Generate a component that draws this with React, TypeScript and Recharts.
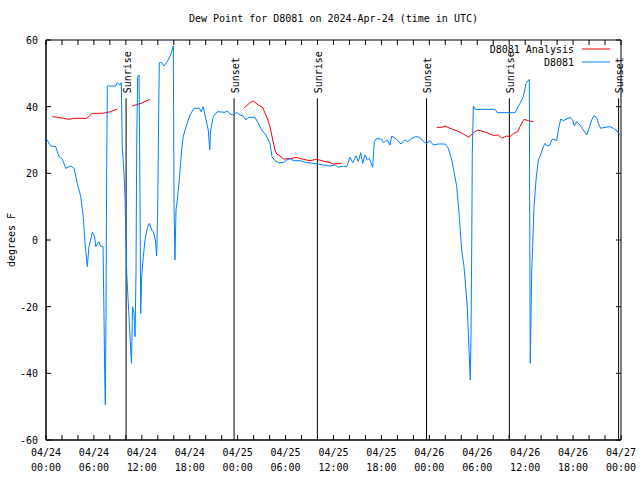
import React from 'react';
import { LineChart, Line, XAxis, YAxis, ReferenceLine, ReferenceArea } from 'recharts';

const FONT = '"DejaVu Sans Mono", "Liberation Mono", monospace';

// time = hours since 2024-04-24 00:00 UTC, value = dew point (deg F)
const stationTimes = [
  0, 0.59, 1.22, 1.63, 2.04, 2.47, 3.09, 3.51, 3.92, 4.35, 4.67, 4.85, 5.05, 5.17, 5.38, 5.8,
  6.1, 6.22, 6.64, 6.85, 7.14, 7.26, 7.35, 7.43, 7.51, 7.6, 7.68, 8.73, 8.93, 9.27, 9.43, 9.55,
  9.77, 9.89, 10.11, 10.39, 10.61, 10.71, 10.83, 11.02, 11.15, 11.27, 11.36, 11.48, 11.65, 11.77,
  11.86, 11.98, 12.18, 12.4, 12.68, 12.94, 13.24, 13.44, 13.69, 13.86, 13.99, 14.11, 14.19, 14.49,
  14.78, 15.11, 15.61, 15.94, 16.03, 16.15, 16.28, 16.44, 16.69, 16.99, 17.19, 17.53, 18.03, 18.53,
  19.2, 19.41, 19.7, 19.95, 20.32, 20.5, 20.62, 20.95, 21.45, 22.41, 22.7, 23.04, 23.45, 23.88,
  24.29, 24.71, 25.01, 25.33, 26.17, 26.58, 27.01, 27.55, 28.05, 28.3, 28.68, 29.09, 29.71, 30.14,
  30.55, 30.97, 31.81, 32.64, 33.47, 34.1, 34.72, 35.56, 36.19, 36.6, 37.23, 37.65, 38.07, 38.41,
  38.82, 39.11, 39.41, 39.66, 39.95, 40.23, 40.48, 40.91, 41.11, 41.41, 42.04, 42.24, 42.74, 43.08,
  43.29, 43.91, 44.11, 44.45, 44.87, 45.29, 45.79, 46.29, 46.83, 47.25, 47.67, 48.08, 48.5, 49.12,
  49.96, 50.38, 50.8, 51.13, 51.43, 51.72, 52.05, 52.34, 52.55, 52.75, 52.97, 53.13, 53.22, 53.31,
  53.38, 53.51, 53.72, 56.22, 56.51, 58.73, 59.35, 59.77, 60.11, 60.52, 60.57, 60.64, 60.73, 60.82,
  60.94, 61.11, 61.36, 61.65, 61.86, 62.27, 62.48, 62.77, 63.11, 63.32, 63.52, 63.95, 64.15, 64.45,
  64.78, 65.11, 65.61, 65.95, 66.15, 66.45, 66.87, 67.28, 67.71, 68.03, 68.33, 68.62, 68.96, 69.16,
  69.46, 70.0, 70.62, 71.04, 71.38, 71.88,
];
const stationValues = [
  30.5, 28.2, 28, 25, 24.3, 21.5, 22.2, 21.5, 17, 13, 7, 0, -5, -8, -2, 2.3,
  1, -2, -0.5, -2, -2, -22, -40, -49.5, -23, 22, 46.2, 46.2, 47.2, 46.5, 47.2, 28,
  20, 13, -10, -23, -33, -37, -20, -22, -29, -10, 29, 49, 49.5, 14,
  -22, -11, -5, 0, 3.5, 5, 3, 2.5, 0, -4.8, 10, 38, 53.2, 53.2,
  52.2, 53.2, 55.5, 58.2, 11, -6, 9, 12, 18, 27, 31, 34, 37.5, 39.5,
  39.5, 38.5, 40, 37, 33, 27, 33, 37, 38.5, 38.3, 38.7, 37.8, 37.5, 38.3,
  37.5, 37.2, 36, 36.8, 36.8, 35, 33, 31.5, 29, 25, 23.8, 23.2, 23.2, 24,
  24.4, 23.8, 23.8, 23.2, 23, 22.8, 22.5, 22.2, 22.5, 21.8, 22.2, 22, 24.8, 23.2,
  25.2, 23.5, 26.2, 23, 25.5, 24, 24.5, 21.8, 29.5, 30.5, 30.2, 29.2, 30, 28.5,
  31.2, 30.2, 29.5, 28.8, 30, 29.5, 30.5, 31, 30.8, 29.5, 29, 29.8, 28.5, 28.8,
  28.8, 27.5, 24, 20, 16, 8, -3, -8, -14, -20, -33, -42, -28, -1,
  26, 40.2, 39.2, 39.2, 38.2, 38.2, 41, 43, 47, 48.2, 6, -37, -24, -9,
  -2, 10, 18, 24, 25, 28, 29, 28.2, 28.5, 30, 30.3, 29.8, 33, 36.3,
  35.8, 36.2, 36.8, 36, 34.2, 35.5, 34.5, 33, 31.5, 33.8, 36, 37.3, 36.8, 35,
  33.5, 33.8, 34, 33.5, 33, 31.5,
];

// null = no analysis value (gap in the line)
const analysisTimes = [
  0.79, 1.41, 2.25, 2.88, 3.51, 5.1, 5.8, 7.05, 8.1, 8.6, 8.93, 9.9,
  10.81, 11.9, 13.02, 18.0,
  24.83, 25.55, 25.96, 26.58, 27.14, 27.71, 28.05, 28.39, 28.68, 28.89, 29.3, 29.72, 30.55, 31.39,
  32.22, 33.06, 33.9, 34.72, 35.56, 35.98, 37.03, 43.0,
  48.92, 49.55, 49.96, 50.59, 51.43, 52.25, 52.97, 53.51, 54.06, 54.97, 56.01, 56.64, 57.06, 57.69,
  58.1, 58.52, 59.07, 59.35, 59.85, 60.39, 61.02,
];
const analysisValues = [
  37, 36.8, 36.5, 36.2, 36.5, 36.5, 38, 38, 38.5, 39, 39.3, null,
  40.2, 41, 42.2, null,
  39.7, 41.2, 41.7, 40.5, 39.7, 36.5, 34, 30, 27, 25.8, 25.2, 24.3, 24.4, 24.8,
  24.2, 23.8, 24.2, 23.7, 23.2, 22.8, 23, null,
  33.8, 33.8, 34.2, 33.5, 32.8, 31.8, 30.8, 32.2, 33, 32.4, 31.4, 31.5, 30.5, 31.2,
  31, 32, 32.5, 34, 36.2, 35.8, 35.5,
];

const sunTimes = [10.03, 23.55, 33.98, 47.65, 58.02, 71.7];
const sunLabels = ['Sunrise', 'Sunset', 'Sunrise', 'Sunset', 'Sunrise', 'Sunset'];

const xTicks = [
  0, 2, 4, 6, 8, 10, 12, 14, 16, 18, 20, 22, 24, 26, 28, 30, 32, 34, 36,
  38, 40, 42, 44, 46, 48, 50, 52, 54, 56, 58, 60, 62, 64, 66, 68, 70, 72,
];
const yTicks = [-60, -40, -20, 0, 20, 40, 60];

const seriesNames = ['D8081 Analysis', 'D8081'];
const seriesColors = ['#ff0000', '#0080ff'];

const stationData = stationTimes.map((t, i) => ({ t, v: stationValues[i] }));
const analysisData = analysisTimes.map((t, i) => ({ t, v: analysisValues[i] }));

const pad = (n: number) => (n < 10 ? '0' + n : '' + n);

function BottomTick({ x, payload }: any) {
  const h = payload.value;
  const major = h % 6 === 0;
  const day = 24 + Math.floor(h / 24);
  const date = day > 30 ? '05/' + pad(day - 30) : '04/' + pad(day);
  return (
    <g>
      <line x1={x} y1={440} x2={x} y2={435} stroke="#000" />
      <line x1={x} y1={40} x2={x} y2={45} stroke="#000" />
      {major && (
        <g fontFamily={FONT} fontSize={10} fill="#000" textAnchor="middle">
          <text x={x} y={456}>{date}</text>
          <text x={x} y={471}>{pad(h % 24) + ':00'}</text>
        </g>
      )}
    </g>
  );
}

function LeftTick({ y, payload }: any) {
  return (
    <g>
      <line x1={46} y1={y} x2={51} y2={y} stroke="#000" />
      <line x1={621} y1={y} x2={616} y2={y} stroke="#000" />
      <text x={38} y={y + 4} textAnchor="end" fontFamily={FONT} fontSize={10} fill="#000">
        {payload.value}
      </text>
    </g>
  );
}

function SunLabel({ viewBox, text }: any) {
  const x = viewBox.x + 1;
  const y = viewBox.y - 5;
  return (
    <text
      x={x}
      y={y}
      transform={`rotate(-90 ${x} ${y})`}
      textAnchor="start"
      dominantBaseline="central"
      fontFamily={FONT}
      fontSize={10}
      fill="#000"
    >
      {text}
    </text>
  );
}

function YLabel() {
  return (
    <text
      x={11}
      y={240}
      transform="rotate(-90 11 240)"
      textAnchor="middle"
      dominantBaseline="central"
      fontFamily={FONT}
      fontSize={10}
      fill="#000"
    >
      degrees F
    </text>
  );
}

function KeyBox() {
  return (
    <svg
      width={200}
      height={30}
      style={{ position: 'absolute', left: 412, top: 42, overflow: 'visible', pointerEvents: 'none' }}
    >
      {seriesNames.map((name, i) => (
        <g key={name}>
          <text
            x={162}
            y={7 + 13 * i}
            textAnchor="end"
            dominantBaseline="central"
            fontFamily={FONT}
            fontSize={10}
            fill="#000"
          >
            {name}
          </text>
          <line x1={170} y1={7 + 13 * i} x2={198} y2={7 + 13 * i} stroke={seriesColors[i]} />
        </g>
      ))}
    </svg>
  );
}

export default function App() {
  return (
    <div style={{ position: 'absolute', left: 0, top: 0, width: 640, height: 480, background: '#fff' }}>
      <div
        style={{
          position: 'absolute',
          left: 46,
          width: 575,
          top: 13,
          textAlign: 'center',
          fontFamily: FONT,
          fontSize: 10,
          color: '#000',
        }}
      >
        Dew Point for D8081 on 2024-Apr-24 (time in UTC)
      </div>
      <LineChart width={640} height={480} margin={{ top: 40, right: 19, bottom: 0, left: 0 }}>
        <XAxis
          dataKey="t"
          type="number"
          domain={[0, 72]}
          ticks={xTicks}
          interval={0}
          height={40}
          tickSize={0}
          tickMargin={0}
          tick={<BottomTick />}
          axisLine={{ stroke: '#000' }}
        />
        <YAxis
          type="number"
          domain={[-60, 60]}
          ticks={yTicks}
          interval={0}
          width={46}
          tickSize={0}
          tickMargin={0}
          tick={<LeftTick />}
          axisLine={{ stroke: '#000' }}
          label={<YLabel />}
        />
        <ReferenceArea x1={0} x2={72} y1={-60} y2={60} fill="none" stroke="#000" strokeWidth={1} />
        {sunTimes.map((t, i) => (
          <ReferenceLine
            key={t}
            segment={[
              { x: t, y: -60 },
              { x: t, y: 42.5 },
            ]}
            stroke="#000"
            strokeWidth={1}
            label={<SunLabel text={sunLabels[i]} />}
          />
        ))}
        <Line
          data={analysisData}
          dataKey="v"
          name={seriesNames[0]}
          stroke={seriesColors[0]}
          strokeWidth={1}
          dot={false}
          activeDot={false}
          isAnimationActive={false}
        />
        <Line
          data={stationData}
          dataKey="v"
          name={seriesNames[1]}
          stroke={seriesColors[1]}
          strokeWidth={1}
          dot={false}
          activeDot={false}
          isAnimationActive={false}
        />
      </LineChart>
      <KeyBox />
    </div>
  );
}
